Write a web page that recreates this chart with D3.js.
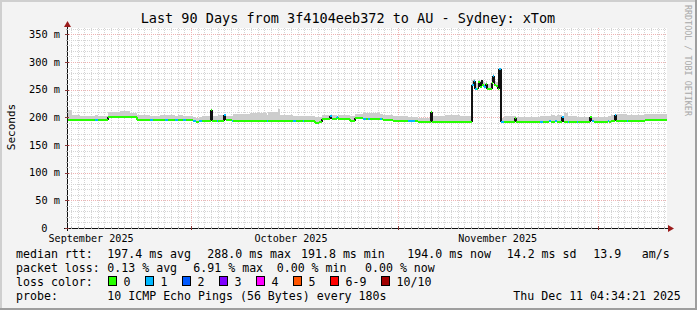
<!DOCTYPE html>
<html><head><meta charset="utf-8">
<script src="https://cdn.jsdelivr.net/npm/d3@7"></script>
<style>
body{margin:0;background:#f3f3f3}
svg{display:block}
text{font-family:"DejaVu Sans Mono",monospace;fill:#000}
</style>
</head><body>
<svg id="c" width="697" height="310"></svg>
<script>
// ---------- data ----------
const title = "Last 90 Days from 3f4104eeb372 to AU - Sydney: xTom";
const yAxisTitle = "Seconds";
const yTickValues = [0, 50, 100, 150, 200, 250, 300, 350];            // ms
const yTickLabels = ["0", "50 m", "100 m", "150 m", "200 m", "250 m", "300 m", "350 m"];
const monthLabels = ["September 2025", "October 2025", "November 2025"];
const monthLabelDates = ["2025-09-16T00:00:00Z", "2025-10-16T00:00:00Z", "2025-11-16T00:00:00Z"];
const graphEnd = "2025-12-11T09:30:00Z";
const graphDays = 90;

// bucket start (days from graph start), median rtt (ms), lost pings (of 10), top of smoke (ms)
const bucketDay = [0,0.75,1.95,4.2,4.6,6.15,7.95,9.45,10.5,12.45,12.9,13.95,14.7,15.15,16.2,16.65,17.4,17.85,18.9,19.35,19.8,20.25,20.7,21.6,21.8,22.5,22.65,23.55,23.8,24.75,24.9,27.45,30.0,30.15,31.65,31.95,33.9,34.35,35.4,35.55,37.2,37.8,38.25,39.45,39.7,40.5,40.65,41.7,42.45,43.2,44.4,44.85,45.15,45.45,46.95,47.2,47.4,48.9,51.15,52.2,52.65,54.6,54.8,56.7,58.95,60.75,61.0,61.2,61.5,61.7,61.95,62.2,62.3,62.55,62.8,63.0,63.45,63.75,63.9,64.1,64.35,64.6,64.8,65.1,65.55,67.2,67.4,70.95,71.4,72.3,72.6,73.2,73.5,74.25,74.5,75.15,75.3,76.5,76.65,78.45,78.7,79.0,81.15,81.3,81.6,82.2,82.4,84.0,84.15,84.45,86.7];
const medianMs = [195,195,194.5,195,194.5,200,200.5,200,196,196,196,195.5,195.5,195.5,195,195,195,195,193,191.5,193,194,194,213,194,194,194,204,194.5,194,194,194,194,194,194,194,193.5,193.5,193,193.5,190.5,192,196.5,202,196.5,200,196.5,197,193,198,197.5,197.5,197.5,197.5,197,197,196,193,193,193,192,210,192,192,192,258,266,251,252,264,255,268,258,254,261,251,251,262,275,258,257,251,288,192,192,199,192,192,192,193,192,193,192,200,192,192,192,192,192,200,193,192,193,192,194,204,194,194,194,194,195];
const lossCount = [0,0,0,1,0,0,0,0,0,1,0,0,1,0,1,0,1,0,1,0,1,0,0,0,0,1,0,1,0,1,0,0,1,0,0,0,1,0,1,0,0,0,0,1,0,1,0,0,0,0,1,0,1,0,1,0,0,0,1,0,0,0,0,0,0,1,1,1,0,0,0,0,0,1,0,0,0,0,1,0,0,0,1,1,0,0,0,1,0,1,0,1,0,1,0,1,0,1,0,0,1,0,1,0,0,1,0,1,0,0,0];
const smokeTopMs = [214,204,203,204,202,210,212,207,204,203,203,205,204,204,203,204,203,202,200,199,201,202,203,213,203,203,204,206,203,203,206,207,205,210,215,204,203,203,202,202,200,201,204,203,205,201,204,205,202,206,207,208,207,208,206,206,205,202,200,200,199,212,203,205,203,268,270,262,262,267,266,270,265,262,266,260,262,270,278,266,264,260,290,198,202,203,201,202,202,203,204,203,204,202,207,202,202,201,201,203,201,201,203,203,205,205,206,205,205,205,206];

const lossLegend = ["0", "1", "2", "3", "4", "5", "6-9", "10/10"];
const lossColors = ["#26ff00", "#00b8ff", "#0059ff", "#7e00ff", "#ff00ff", "#ff5500", "#ff0000", "#a10000"];

const rttLabel = "median rtt:";
const rttStats = ["197.4 ms avg", "288.0 ms max", "191.8 ms min", "194.0 ms now", "14.2 ms sd", "13.9", "am/s"];
const lossLabel = "packet loss:";
const lossStats = ["0.13 % avg", "6.91 % max", "0.00 % min", "0.00 % now"];
const colorLabel = "loss color:";
const probeLabel = "probe:";
const probeText = "10 ICMP Echo Pings (56 Bytes) every 180s";
const stampText = "Thu Dec 11 04:34:21 2025";
const watermark = "RRDTOOL / TOBI OETIKER";

// ---------- drawing ----------
const svg = d3.select("#c");
const W = 697, H = 310;
const L = 67, R = 667, T = 28, B = 228;

const end = new Date(graphEnd);
const start = new Date(end.getTime() - graphDays * 864e5);
const x = d3.scaleUtc().domain([start, end]).range([L, R]);
const y = d3.scaleLinear().domain([0, 361.5]).range([B, T]);
const tOf = d => new Date(start.getTime() + d * 864e5);

// background + 3D frame
svg.append("rect").attr("width", W).attr("height", H).attr("fill", "#f3f3f3");
svg.append("path").attr("d", `M0,0H${W}V2H2V${H}H0Z`).attr("fill", "#cfcfcf");
svg.append("path").attr("d", `M${W},0V${H}H0V${H-2}H${W-2}V0Z`).attr("fill", "#9e9e9e");

// canvas
svg.append("rect").attr("x", L).attr("y", T).attr("width", R - L).attr("height", B - T).attr("fill", "#ffffff");

const grid = svg.append("g").attr("shape-rendering", "crispEdges");
const minorCol = "#d4d4d4", majorCol = "#eeb2b2";
// minor horizontal
d3.range(10, 361, 10).filter(v => v % 50 !== 0).forEach(v => {
  grid.append("line").attr("x1", L).attr("x2", R).attr("y1", Math.round(y(v)) + 0.5).attr("y2", Math.round(y(v)) + 0.5)
    .attr("stroke", minorCol).attr("stroke-dasharray", "1,1");
});
// minor vertical (days)
d3.utcDay.range(start, end).forEach(d => {
  const xx = Math.round(x(d)) + 0.5;
  grid.append("line").attr("x1", xx).attr("x2", xx).attr("y1", T).attr("y2", B)
    .attr("stroke", minorCol).attr("stroke-dasharray", "1,1");
});
// major horizontal
yTickValues.filter(v => v > 0).forEach(v => {
  const yy = Math.round(y(v)) + 0.5;
  grid.append("line").attr("x1", L).attr("x2", R).attr("y1", yy).attr("y2", yy)
    .attr("stroke", majorCol).attr("stroke-dasharray", "1,1");
});
// major vertical (months)
d3.utcMonth.range(start, end).forEach(d => {
  const xx = Math.round(x(d)) + 0.5;
  grid.append("line").attr("x1", xx).attr("x2", xx).attr("y1", T).attr("y2", B)
    .attr("stroke", majorCol).attr("stroke-dasharray", "1,1");
});

// data
const buckets = bucketDay.map((d, i) => ({
  t0: tOf(d),
  t1: tOf(i + 1 < bucketDay.length ? bucketDay[i + 1] : graphDays),
  med: medianMs[i], loss: lossCount[i], smoke: smokeTopMs[i]
}));
const lossColor = n => n <= 5 ? lossColors[n] : (n < 10 ? lossColors[6] : lossColors[7]);

const data = svg.append("g").attr("shape-rendering", "crispEdges");
data.selectAll("rect.smoke").data(buckets).join("rect").attr("class", "smoke")
  .attr("x", d => x(d.t0)).attr("width", d => Math.max(0.5, x(d.t1) - x(d.t0)))
  .attr("y", d => y(d.smoke)).attr("height", d => y(d.med - 1.5) - y(d.smoke))
  .attr("fill", "#cdcdcd");

// verticals
buckets.forEach((b, i) => {
  if (i === 0) return;
  const p = buckets[i - 1];
  const big = Math.abs(b.med - p.med) > 4;
  data.append("line").attr("x1", x(b.t0)).attr("x2", x(b.t0))
    .attr("y1", y(p.med)).attr("y2", y(b.med))
    .attr("stroke", big ? "#111" : lossColor(b.loss)).attr("stroke-width", big ? 1.5 : 2);
});
// horizontals
data.selectAll("line.med").data(buckets).join("line").attr("class", "med")
  .attr("x1", d => x(d.t0)).attr("x2", d => x(d.t1))
  .attr("y1", d => y(d.med)).attr("y2", d => y(d.med))
  .attr("stroke", d => lossColor(d.loss)).attr("stroke-width", 2);

// axes
const ax = svg.append("g").attr("shape-rendering", "crispEdges");
ax.append("line").attr("x1", L - 3).attr("x2", R + 3).attr("y1", B + 0.5).attr("y2", B + 0.5).attr("stroke", "#101010");
ax.append("line").attr("x1", L + 0.5).attr("x2", L + 0.5).attr("y1", B + 3).attr("y2", T - 3).attr("stroke", "#101010");
// ticks
yTickValues.forEach(v => {
  const yy = Math.round(y(v)) + 0.5;
  ax.append("line").attr("x1", L - 2).attr("x2", L + 2).attr("y1", yy).attr("y2", yy).attr("stroke", "#8b3a3a");
});
d3.range(10, 361, 10).filter(v => v % 50 !== 0).forEach(v => {
  const yy = Math.round(y(v)) + 0.5;
  ax.append("line").attr("x1", L - 1).attr("x2", L + 1).attr("y1", yy).attr("y2", yy).attr("stroke", "#aaa");
});
d3.utcDay.range(start, end).forEach(d => {
  const xx = Math.round(x(d)) + 0.5;
  ax.append("line").attr("x1", xx).attr("x2", xx).attr("y1", B - 1).attr("y2", B + 1).attr("stroke", "#aaa");
});
d3.utcMonth.range(start, end).forEach(d => {
  const xx = Math.round(x(d)) + 0.5;
  ax.append("line").attr("x1", xx).attr("x2", xx).attr("y1", B - 2).attr("y2", B + 2).attr("stroke", "#8b3a3a");
});
// arrows
svg.append("path").attr("d", `M${L - 3},${T - 1}L${L + 0.5},${T - 7}L${L + 4},${T - 1}Z`).attr("fill", "#9b1c1c");
svg.append("path").attr("d", `M${R + 1},${B - 3}L${R + 7},${B + 0.5}L${R + 1},${B + 4}Z`).attr("fill", "#9b1c1c");

// y labels (unit-less "0" keeps the column of the digits, as rrdtool does)
svg.append("g").selectAll("text").data(yTickValues).join("text")
  .attr("x", v => v === 0 ? L - 19.5 : L - 7).attr("y", v => y(v) + 3.6).attr("text-anchor", "end")
  .style("font-size", "10.3px").text((v, i) => yTickLabels[i]);
// x labels
svg.append("g").selectAll("text").data(monthLabels).join("text")
  .attr("x", (m, i) => x(new Date(monthLabelDates[i]))).attr("y", 241.5).attr("text-anchor", "middle")
  .style("font-size", "10.1px").text(m => m);

// title
svg.append("text").attr("x", 348).attr("y", 23).attr("text-anchor", "middle").style("font-size", "13.5px").text(title);
// y axis title
svg.append("text").attr("transform", "translate(15,127) rotate(-90)").attr("text-anchor", "middle")
  .style("font-size", "11px").text(yAxisTitle);
// watermark
svg.append("text").attr("transform", "translate(685,5) rotate(90)").attr("text-anchor", "start")
  .style("font-size", "8.4px").style("fill", "#a8a8a8").text(watermark);

// legend
const lg = svg.append("g").style("font-size", "11.6px");
const row = [258, 272, 286, 300];
lg.append("text").attr("x", 16).attr("y", row[0]).text(rttLabel);
[107.3, 207.3, 301, 407.3, 506.7, 593.3, 641.7].forEach((px, i) =>
  lg.append("text").attr("x", px).attr("y", row[0]).text(rttStats[i]));
lg.append("text").attr("x", 16).attr("y", row[1]).text(lossLabel);
[107.3, 193.3, 276.7, 365].forEach((px, i) =>
  lg.append("text").attr("x", px).attr("y", row[1]).text(lossStats[i]));
lg.append("text").attr("x", 16).attr("y", row[2]).text(colorLabel);
const boxX = [108.5, 145.5, 182.5, 219.5, 256.5, 293.5, 330.5, 381.5];
lossLegend.forEach((lab, i) => {
  lg.append("rect").attr("x", boxX[i]).attr("y", row[2] - 9.5).attr("width", 8).attr("height", 9)
    .attr("fill", lossColors[i]).attr("stroke", "#000").attr("stroke-width", 1);
  lg.append("text").attr("x", boxX[i] + 15).attr("y", row[2]).text(lab);
});
lg.append("text").attr("x", 16).attr("y", row[3]).text(probeLabel);
lg.append("text").attr("x", 107.3).attr("y", row[3]).text(probeText);
lg.append("text").attr("x", 513.3).attr("y", row[3]).text(stampText);
</script>
</body></html>
